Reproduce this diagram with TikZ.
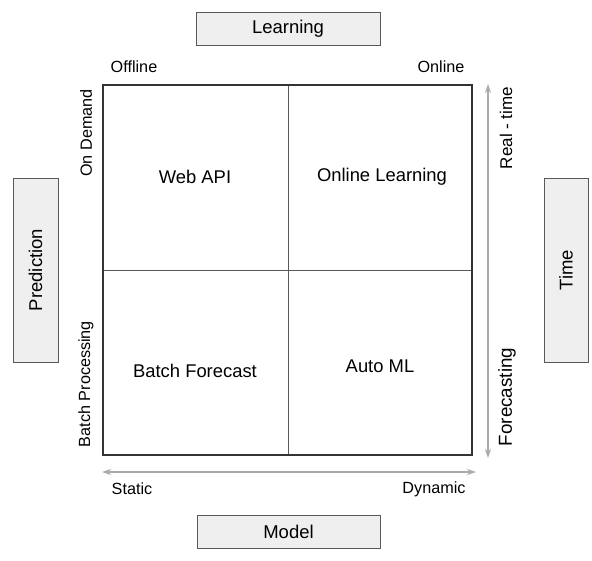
\documentclass[tikz,border=0pt]{standalone}
\usepackage{fontspec}
\setmainfont{Liberation Sans}
\usetikzlibrary{arrows.meta,positioning}

\definecolor{boxgray}{HTML}{EFEFEF}
\definecolor{linegray}{HTML}{595959}
\definecolor{axisgray}{HTML}{AAAAAA}

\begin{document}
\begin{tikzpicture}[x=1pt,y=-1pt,
	side/.style={draw=linegray,fill=boxgray,line width=1pt,inner sep=0pt,
		font=\fontsize{18.5}{20}\selectfont},
	cell/.style={font=\fontsize{18.4}{20}\selectfont},
	small/.style={font=\fontsize{16.2}{18}\selectfont},
	axis/.style={draw=axisgray,line width=1.6pt,{Stealth[length=9pt,width=6pt]}-{Stealth[length=9pt,width=6pt]}}]
	\useasboundingbox (0,0) rectangle (592,560);

	% outer boxes
	\node (learn) [side,minimum width=184pt,minimum height=33pt] at (288,28.5) {Learning};
	\node (model) [side,minimum width=183pt,minimum height=33pt] at (288.5,531.5) {Model};
	\node (pred) [side,minimum width=184pt,minimum height=45pt,rotate=90] at (35.5,270) {Prediction};
	\node (time) [side,minimum width=184pt,minimum height=44pt,rotate=90] at (566,270) {Time};

	% quadrant
	\draw[linegray,line width=1pt] (288,85) -- (288,455);
	\draw[linegray,line width=1pt] (103,270) -- (472,270);
	\draw[black!80,line width=2pt] (103,85) rectangle (472,455);

	\node (1) [cell] at (195,177) {Web API};
	\node (2) [cell] at (382,177) {Online Learning};
	\node (3) [cell] at (195,371) {Batch Forecast};
	\node (4) [cell] at (380,366) {Auto ML};

	% axis labels
	\node (off) [small] at (134,67) {Offline};
	\node (on) [small] at (441,67) {Online};
	\node (stat) [small] at (132,489) {Static};
	\node (dyn) [small] at (434,489) {Dynamic};
	\node (dem) [small,rotate=90] at (86,133) {On Demand};
	\node (bat) [small,rotate=90] at (86,384) {Batch Processing};
	\node (real) [font=\fontsize{17}{18}\selectfont,rotate=90] at (506,128) {Real - time};
	\node (fore) [font=\fontsize{18.8}{20}\selectfont,rotate=90] at (507,397) {Forecasting};

	\coordinate (top) at (488,84);
	\coordinate (bot) at (488,458);
	\coordinate (left) at (102,472);
	\coordinate (right) at (476,472);

	\path[axis] (top) -- (bot);
	\path[axis] (left) -- (right);
\end{tikzpicture}
\end{document}
